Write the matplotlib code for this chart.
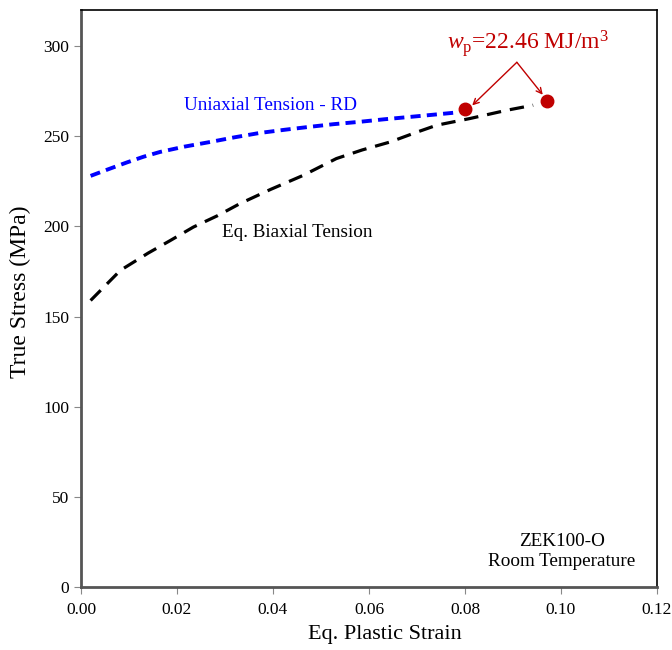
#!/usr/bin/env python

import matplotlib.pyplot as plt

plt.rcParams['font.family'] = ['Liberation Serif', 'DejaVu Serif']
plt.rcParams['mathtext.fontset'] = 'custom'
plt.rcParams['mathtext.rm'] = 'Liberation Serif'
plt.rcParams['mathtext.it'] = 'Liberation Serif:italic'

# uniaxial tension along rolling direction
uni_strain = [0.0020, 0.0055, 0.0096, 0.0130, 0.0165, 0.0215, 0.0269, 0.0320,
              0.0372, 0.0425, 0.0476, 0.0527, 0.0581, 0.0632, 0.0685, 0.0733, 0.0776]
uni_stress = [228.0, 231.5, 235.5, 238.6, 241.3, 244.2, 246.8, 249.4,
              251.8, 253.6, 255.2, 256.7, 258.0, 259.4, 260.7, 261.9, 263.0]

# equi-biaxial tension (bulge test)
bi_strain = [0.0020, 0.0082, 0.0140, 0.0185, 0.0234, 0.0285, 0.0331, 0.0395,
             0.0463, 0.0532, 0.0586, 0.0644, 0.0697, 0.0741, 0.0810, 0.0887, 0.0942]
bi_stress = [158.9, 175.6, 185.2, 192.0, 199.6, 206.0, 212.6, 220.5,
             228.3, 237.6, 242.4, 246.8, 252.0, 256.1, 259.8, 264.4, 267.2]

# equal plastic work points
wp_strain = [0.0800, 0.0970]
wp_stress = [264.9, 269.5]
wp_label = r'$\mathit{w}_{\mathrm{p}}$=22.46 MJ/m$^{\mathrm{3}}$'

x_ticks = [0.00, 0.02, 0.04, 0.06, 0.08, 0.10, 0.12]
y_ticks = [0, 50, 100, 150, 200, 250, 300]


def main():
    fig = plt.figure(figsize=(6.72, 6.5), dpi=100)
    ax = fig.add_axes([81 / 672, 63 / 650, 576 / 672, 577 / 650])

    ax.plot(uni_strain, uni_stress, color='#0000FF', lw=2.8, dashes=(2.6, 1.6))
    ax.plot(bi_strain, bi_stress, color='black', lw=2.3, dashes=(4.5, 2.8))
    ax.plot(wp_strain, wp_stress, 'o', color='#C00000', ms=9, zorder=5)

    # two arrows from a common apex to the equal-work points
    tips = [(wp_strain[0] + 0.0015, wp_stress[0] + 2.2),
            (wp_strain[1] - 0.0008, wp_stress[1] + 3.5)]
    for tip in tips:
        ax.annotate('', xy=tip, xytext=(0.0908, 291.0),
                    arrowprops=dict(arrowstyle='->', color='#C00000', lw=1.0,
                                    shrinkA=0, shrinkB=0))
    ax.text(0.0931, 301.5, wp_label, color='#C00000', fontsize=17,
            ha='center', va='center')

    ax.text(0.0394, 267.1, 'Uniaxial Tension - RD', color='#0000FF', fontsize=13.8,
            ha='center', va='center')
    ax.text(0.0450, 196.6, 'Eq. Biaxial Tension', color='black', fontsize=13.8,
            ha='center', va='center')
    ax.text(0.1002, 19.7, 'ZEK100-O\nRoom Temperature', color='black', fontsize=13.8,
            ha='center', va='center', linespacing=1.3)

    ax.set_xlim(0, 0.12)
    ax.set_ylim(0, 320)
    ax.set_xticks(x_ticks)
    ax.set_xticklabels(['%.2f' % v for v in x_ticks])
    ax.set_yticks(y_ticks)
    ax.tick_params(direction='out', length=5, width=0.8, labelsize=12.5, color='#888888')
    ax.tick_params(axis='x', pad=6)

    for side in ['left', 'bottom']:
        ax.spines[side].set_color('#555555')
        ax.spines[side].set_linewidth(2.0)
    for side in ['top', 'right']:
        ax.spines[side].set_color('black')
        ax.spines[side].set_linewidth(1.2)

    ax.set_xlabel('Eq. Plastic Strain', fontsize=16)
    ax.set_ylabel('True Stress (MPa)', fontsize=17)
    ax.xaxis.set_label_coords(0.528, -0.066)
    ax.yaxis.set_label_coords(-0.087, 0.511)

    fig.savefig('out.png', dpi=100)


if __name__ == "__main__":
    main()
